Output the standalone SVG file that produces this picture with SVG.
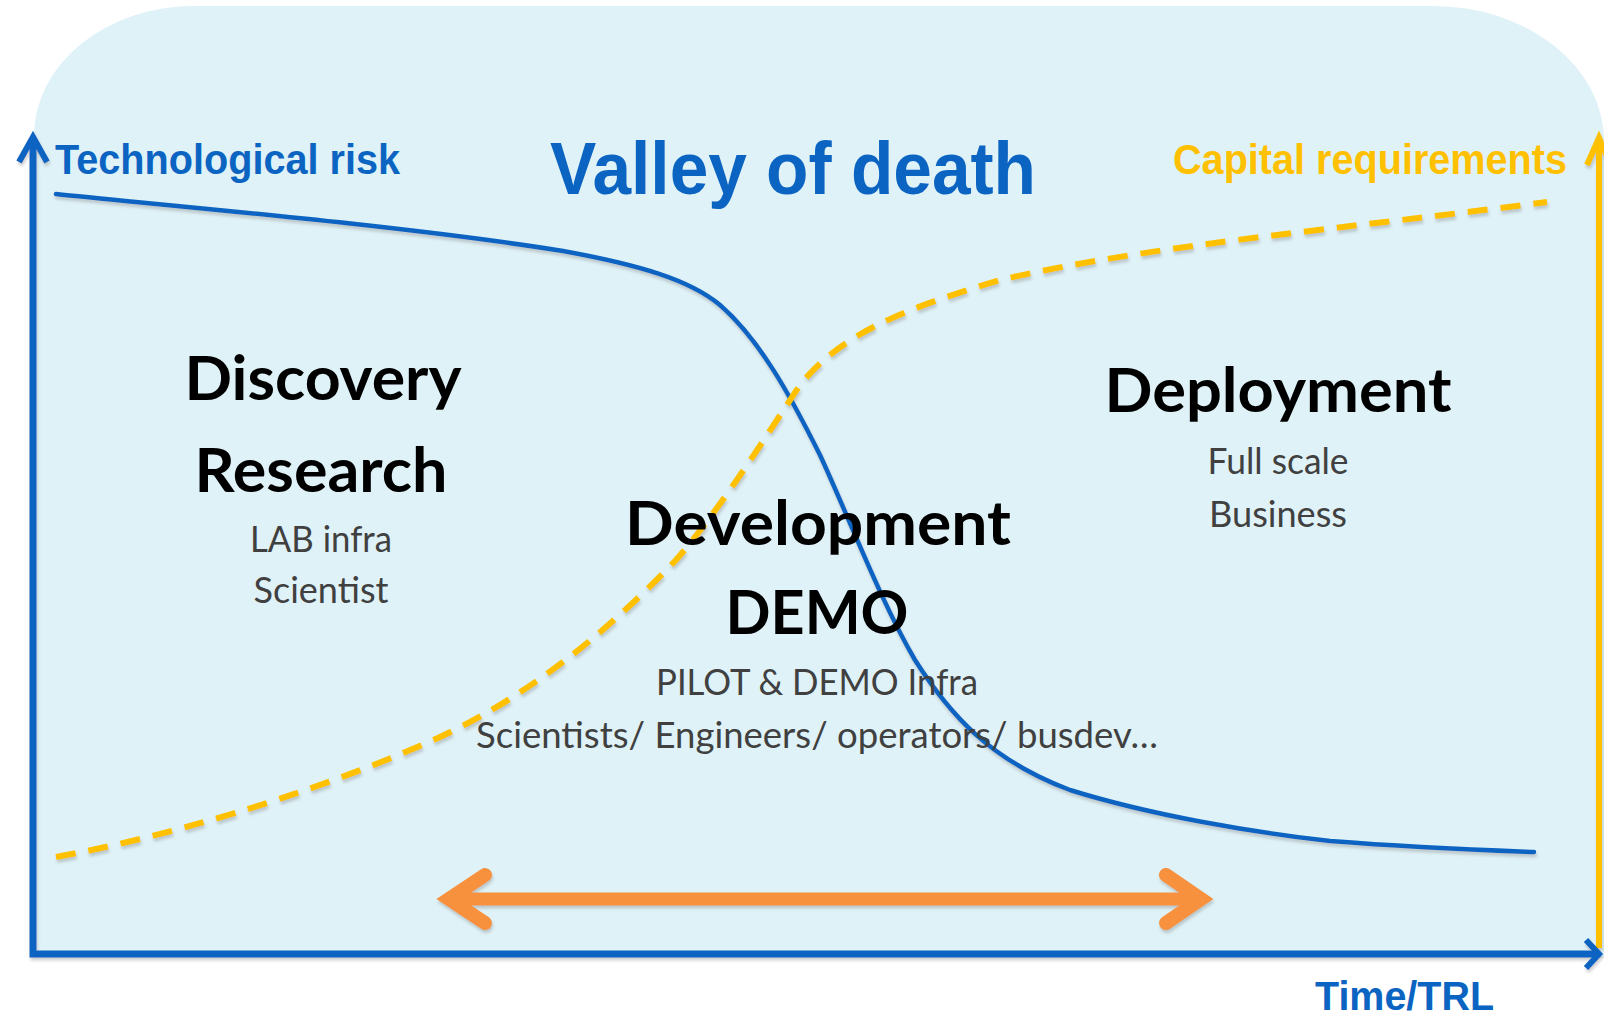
<svg xmlns="http://www.w3.org/2000/svg" width="1604" height="1018" viewBox="0 0 1604 1018">
  <defs>
    <filter id="sh" x="-5%" y="-5%" width="110%" height="115%">
      <feDropShadow dx="1" dy="3" stdDeviation="1.5" flood-color="#7a7a7a" flood-opacity="0.35"/>
    </filter>
    <style>
      .ax { font-family: "Liberation Sans", Arial, sans-serif; font-weight: bold; }
      .blue { fill: #0B64C1; }
      .gold { fill: #FFC000; }
      .big { font-family: Lato, "Open Sans", sans-serif; font-weight: bold; font-size: 62px; fill: #000; text-anchor: middle; }
      .sub { font-family: Lato, "Open Sans", sans-serif; font-size: 36px; fill: #404040; text-anchor: middle; }
      .bline { fill: none; stroke: #0B64C1; stroke-width: 4.5; stroke-linecap: round; }
      .yline { fill: none; stroke: #FFC000; stroke-width: 6; stroke-dasharray: 20 13; }
      .axis { fill: none; stroke: #0B64C1; stroke-width: 7; }
      .axhead { fill: none; stroke: #0B64C1; stroke-width: 6; stroke-linejoin: miter; }
      .yhead { fill: none; stroke: #FFC000; stroke-width: 6; stroke-linejoin: miter; }
      .yaxis { fill: none; stroke: #FFC000; stroke-width: 6; }
      .orange { fill: none; stroke: #F7913D; stroke-width: 13; }
      .ohead { fill: none; stroke: #F7913D; stroke-width: 14; stroke-linecap: round; stroke-linejoin: miter; }
    </style>
  </defs>

  <rect x="0" y="0" width="1604" height="1018" fill="#ffffff"/>
  <g id="background">
    <path d="M 34 958 L 34 135 A 160 130 0 0 1 194 6 L 1433 6 A 171 135 0 0 1 1604 141 L 1604 958 Z" fill="#DFF2F7"/>
  </g>

  <g id="axes" filter="url(#sh)">
    <path class="yaxis" d="M 1599 140 L 1599 948"/>
    <path class="yhead" d="M 1587 165 L 1599 138 L 1611 165"/>
    <path class="axis" d="M 33 140 L 33 954 L 1598 954"/>
    <path class="axhead" d="M 19 162 L 33 137 L 47 162"/>
    <path class="axhead" d="M 1586 940 L 1599 954 L 1586 968"/>
  </g>

  <g id="connectors" filter="url(#sh)">
    <path id="tech-risk-curve" class="bline" d="M 56 194 C 150 204, 400 225, 563 251 C 640 265, 690 280, 720 305 C 760 340, 790 395, 820 455 C 850 520, 880 600, 915 660 C 950 715, 990 760, 1070 790 C 1150 815, 1250 832, 1330 841 C 1420 848, 1480 850, 1534 852"/>
    <path id="capital-curve" class="yline" d="M 56 857 C 150 840, 300 800, 440 737 C 520 700, 600 640, 676 560 C 720 510, 770 430, 800 385 C 840 335, 900 310, 1000 280 C 1150 245, 1350 228, 1547 202"/>
    <g id="valley-span">
      <path class="orange" d="M 450 899 L 1200 899"/>
      <path class="ohead" d="M 485 875 L 449 899 L 485 923"/>
      <path class="ohead" d="M 1166 875 L 1201 899 L 1166 923"/>
    </g>
  </g>

  <g id="axis-labels">
    <text class="ax blue" x="55" y="174" font-size="42" textLength="345" lengthAdjust="spacingAndGlyphs">Technological risk</text>
    <text class="ax gold" x="1173" y="174" font-size="42" textLength="394" lengthAdjust="spacingAndGlyphs">Capital requirements</text>
    <text class="ax blue" x="1315" y="1010" font-size="41" textLength="179" lengthAdjust="spacingAndGlyphs">Time/TRL</text>
  </g>

  <g id="title">
    <text class="ax blue" x="550" y="194" font-size="75" textLength="486" lengthAdjust="spacingAndGlyphs">Valley of death</text>
  </g>

  <g id="discovery">
    <text class="big" x="323" y="400" textLength="277" lengthAdjust="spacingAndGlyphs">Discovery</text>
    <text class="big" x="321" y="492" textLength="253" lengthAdjust="spacingAndGlyphs">Research</text>
    <text class="sub" x="321" y="552" textLength="142" lengthAdjust="spacingAndGlyphs">LAB infra</text>
    <text class="sub" x="321" y="603" textLength="135" lengthAdjust="spacingAndGlyphs">Scientist</text>
  </g>

  <g id="development">
    <text class="big" x="818" y="545" textLength="386" lengthAdjust="spacingAndGlyphs">Development</text>
    <text class="big" x="817" y="634" textLength="183" lengthAdjust="spacingAndGlyphs">DEMO</text>
    <text class="sub" x="817" y="695" textLength="322" lengthAdjust="spacingAndGlyphs">PILOT &amp; DEMO Infra</text>
    <text class="sub" x="817" y="748" textLength="682" lengthAdjust="spacingAndGlyphs">Scientists/ Engineers/ operators/ busdev…</text>
  </g>

  <g id="deployment">
    <text class="big" x="1278" y="412" textLength="347" lengthAdjust="spacingAndGlyphs">Deployment</text>
    <text class="sub" x="1278" y="474" textLength="141" lengthAdjust="spacingAndGlyphs">Full scale</text>
    <text class="sub" x="1278" y="527" textLength="138" lengthAdjust="spacingAndGlyphs">Business</text>
  </g>
</svg>
